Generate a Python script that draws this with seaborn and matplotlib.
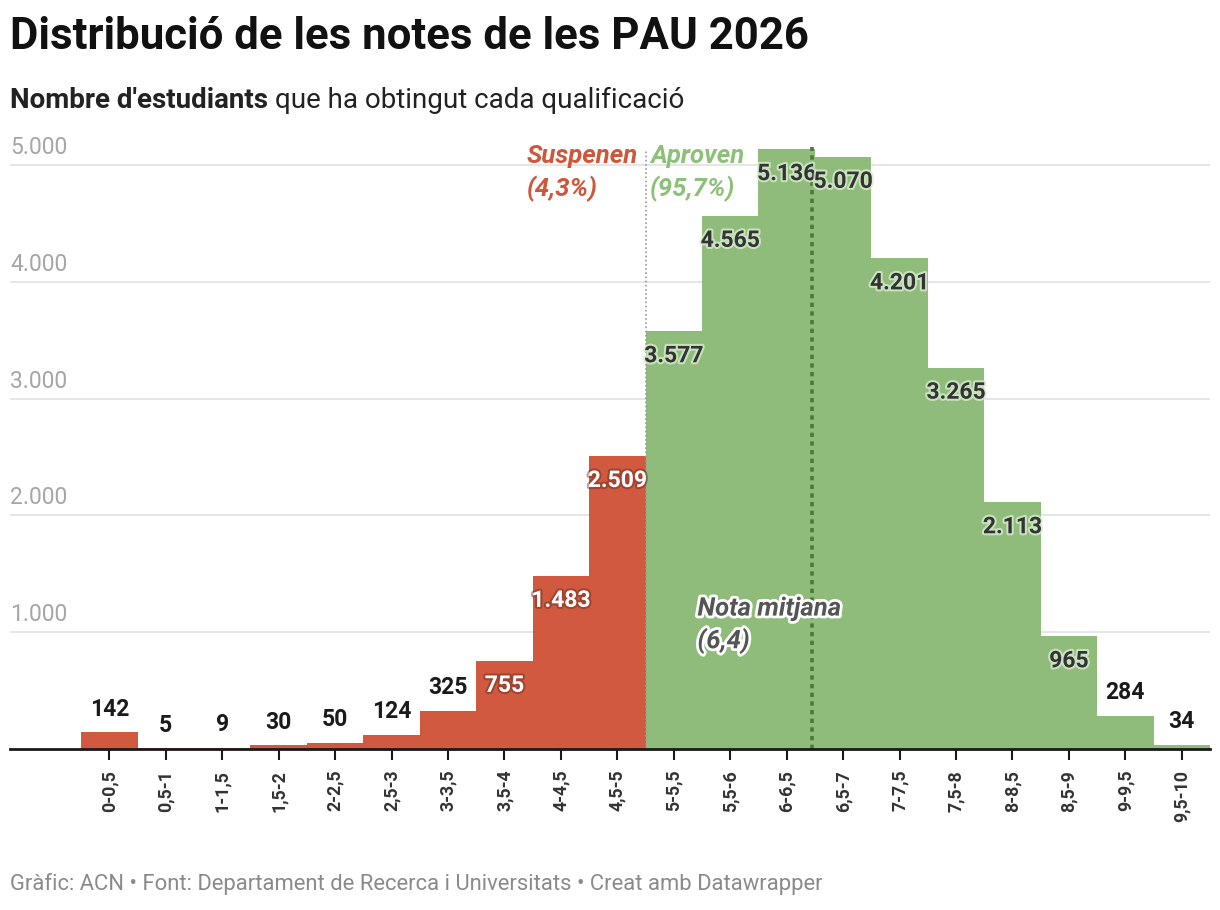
import matplotlib
matplotlib.use("Agg")
import matplotlib.pyplot as plt
import matplotlib.patheffects as pe
import seaborn as sns
import pandas as pd

# dades
trams = ["0-0,5", "0,5-1", "1-1,5", "1,5-2", "2-2,5", "2,5-3", "3-3,5", "3,5-4",
         "4-4,5", "4,5-5", "5-5,5", "5,5-6", "6-6,5", "6,5-7", "7-7,5", "7,5-8",
         "8-8,5", "8,5-9", "9-9,5", "9,5-10"]
estudiants = [142, 5, 9, 30, 50, 124, 325, 755, 1483, 2509,
              3577, 4565, 5136, 5070, 4201, 3265, 2113, 965, 284, 34]
resultat = ["Suspenen"] * 10 + ["Aproven"] * 10
eix_y = [1000, 2000, 3000, 4000, 5000]
nota_mitjana_pos = 12.45   # posició de la nota mitjana (6,4) sobre l'eix de trams

vermell = "#d0593f"
verd = "#8fbc7b"

df = pd.DataFrame({"tram": trams, "n": estudiants, "res": resultat})

sns.set_theme(style="white")
plt.rcParams["font.family"] = ["Roboto", "DejaVu Sans"]

W, H = 1220, 910
fig = plt.figure(figsize=(W / 100, H / 100), dpi=100)
ymax = 5200
px_per_1000 = 116.8
top_px = 749 - ymax / 1000 * px_per_1000
ax = fig.add_axes([10 / W, 1 - 749 / H, 1200 / W, (749 - top_px) / H])

sns.barplot(data=df, x="tram", y="n", hue="res", dodge=False, width=1.0,
            palette={"Suspenen": vermell, "Aproven": verd}, legend=False,
            saturation=1, ax=ax, zorder=2, linewidth=0)

ax.set_xlim(-1.76, 19.5)
ax.set_ylim(0, ymax)
ax.set_xlabel("")
ax.set_ylabel("")
for s in ["top", "right", "left"]:
    ax.spines[s].set_visible(False)
ax.spines["bottom"].set_color("#1a1a1a")
ax.spines["bottom"].set_linewidth(2)
ax.spines["bottom"].set_zorder(5)

# graella
for v in eix_y:
    ax.axhline(v, color="#e2e2e2", lw=1.2, zorder=0)
    ax.text(-1.76, v + 150, f"{v:,}".replace(",", "."), ha="left", va="center",
            fontsize=16.5, color="#a6a6a6", zorder=1)
ax.set_yticks([])

ax.tick_params(axis="x", bottom=True, length=8, width=1.5, color="#1a1a1a", pad=7)
ax.set_xticks(range(len(trams)))
ax.set_xticklabels(trams, rotation=90, fontsize=12.8, fontweight="bold", color="#333333")

# línies
ax.vlines(9.5, 0, 5130, colors="#999999", linestyles=(0, (1, 1.5)), lw=1.2, zorder=3)
ax.vlines(nota_mitjana_pos, 0, 5150, colors="#4a7a3a", linestyles=(0, (1.2, 1.2)), lw=2.6, zorder=3)

# etiquetes de valor
for i, (v, r) in enumerate(zip(estudiants, resultat)):
    lab = f"{v:,}".replace(",", ".")
    if v < 700:
        ax.text(i, v + 100, lab, ha="center", va="bottom", fontsize=16.5,
                fontweight="bold", color="#1a1a1a", zorder=4)
    elif r == "Suspenen":
        ax.text(i, v - 210, lab, ha="center", va="center", fontsize=16.5,
                fontweight="bold", color="white", zorder=4,
                path_effects=[pe.withStroke(linewidth=3, foreground="#6b2a1c", alpha=0.45)])
    else:
        ax.text(i, v - 210, lab, ha="center", va="center", fontsize=16.5,
                fontweight="bold", color="#333333", zorder=4,
                path_effects=[pe.withStroke(linewidth=3, foreground="#d8ecd0", alpha=0.8)])

# anotacions
ax.text(9.37, 5180, "Suspenen\n(4,3%)", ha="right", va="top", multialignment="left",
        fontsize=18.5, fontweight="bold", fontstyle="italic", color="#d0563a",
        linespacing=1.4, zorder=4)
ax.text(9.58, 5180, "Aproven\n(95,7%)", ha="left", va="top", fontsize=18.5,
        fontweight="bold", fontstyle="italic", color="#8ec07a", linespacing=1.4, zorder=4)
ax.text(10.42, 1305, "Nota mitjana\n(6,4)", ha="left", va="top", fontsize=18.5,
        fontweight="bold", fontstyle="italic", color="#555555", linespacing=1.35, zorder=4,
        path_effects=[pe.withStroke(linewidth=4, foreground="white")])

# títols
fig.text(10 / W, 1 - 37 / H, "Distribució de les notes de les PAU 2026", ha="left",
         va="center", fontsize=31.5, fontweight="bold", color="#111111")
t1 = fig.text(10 / W, 1 - 100 / H, "Nombre d'estudiants", ha="left", va="center",
              fontsize=20, fontweight="bold", color="#222222")
fig.canvas.draw()
bb = t1.get_window_extent()
fig.text((bb.x1 + 7) / W, 1 - 100 / H, "que ha obtingut cada qualificació", ha="left",
         va="center", fontsize=20, color="#222222")
fig.text(10 / W, 1 - 884 / H,
         "Gràfic: ACN • Font: Departament de Recerca i Universitats • Creat amb Datawrapper",
         ha="left", va="center", fontsize=15.8, color="#8a8a8a")

fig.savefig("out.png", dpi=100, facecolor="white")
